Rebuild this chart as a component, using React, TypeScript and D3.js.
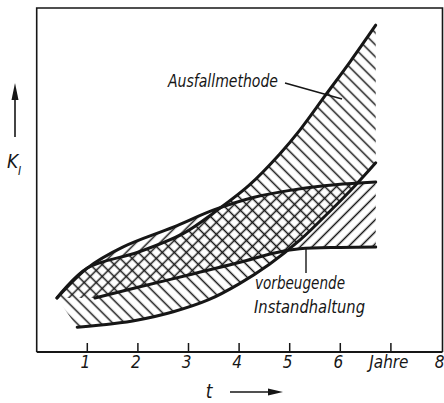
import * as d3 from "d3";
import React from "react";

// curve values: [t in Jahre, K_I in arbitrary units]
const ausfallUpper = [
  [0.4, 1.57], [1.0, 2.44], [2.0, 2.9], [2.9, 3.45], [3.5, 4.05], [4.2, 4.85],
  [4.8, 5.75], [5.2, 6.45], [5.7, 7.45], [6.2, 8.45], [6.7, 9.5],
];
const ausfallLower = [
  [0.8, 0.72], [1.5, 0.82], [2.0, 0.93], [2.7, 1.17], [3.4, 1.52], [4.0, 1.98],
  [4.6, 2.55], [5.2, 3.25], [5.8, 4.1], [6.3, 4.85], [6.7, 5.5],
];
const vorbUpper = [
  [0.4, 1.57], [1.0, 2.44], [1.7, 3.05], [2.7, 3.63], [3.5, 4.13], [4.3, 4.5],
  [5.1, 4.72], [5.9, 4.86], [6.7, 4.94],
];
const vorbLower = [
  [1.15, 1.57], [2.0, 1.88], [3.0, 2.24], [4.0, 2.6], [4.7, 2.88], [5.2, 3.0],
  [6.0, 3.04], [6.7, 3.05],
];
const tickYears = [1, 2, 3, 4, 5, 6, 7];
const tickLabels = ["1", "2", "3", "4", "5", "6", "Jahre", "8"];

const W = 444;
const H = 403;
const ink = "#161616";
const font = "'DejaVu Sans Condensed', 'Liberation Sans Narrow', 'DejaVu Sans', sans-serif";

const x = d3.scaleLinear().domain([0, 8]).range([36.7, 441.5]);
const y = d3.scaleLinear().domain([0, 10]).range([352, 8]);

const line = d3
  .line<number[]>()
  .x((d) => x(d[0]))
  .y((d) => y(d[1]))
  .curve(d3.curveCatmullRom.alpha(0.5));

// closed band: upper curve forward, lower curve back
const band = (upper: number[][], lower: number[][]) =>
  line(upper) + line(lower.slice().reverse())!.replace(/^M/, "L") + "Z";

export default function App() {
  return (
    <svg
      width={W}
      height={H}
      style={{ position: "absolute", left: 0, top: 0, background: "#fff" }}
      fontFamily={font}
      fontStyle="italic"
    >
      <defs>
        <pattern id="hatchA" width={8.5} height={10} patternUnits="userSpaceOnUse" patternTransform="rotate(-45)">
          <line x1={4.25} y1={-1} x2={4.25} y2={11} stroke={ink} strokeWidth={1.5} />
        </pattern>
        <pattern id="hatchV" width={8.5} height={10} patternUnits="userSpaceOnUse" patternTransform="rotate(45)">
          <line x1={4.25} y1={-1} x2={4.25} y2={11} stroke={ink} strokeWidth={1.5} />
        </pattern>
      </defs>

      {/* frame */}
      <path d={`M${x(0)},${y(0)}V${y(10)}H${x(8) + 1}V${y(0)}`} fill="none" stroke={ink} strokeWidth={1.6} />
      <line x1={x(0)} x2={x(8) + 1} y1={y(0)} y2={y(0)} stroke={ink} strokeWidth={2.2} />
      {tickYears.map((t) => (
        <line key={t} x1={x(t)} x2={x(t)} y1={y(0)} y2={y(0) - 9} stroke={ink} strokeWidth={1.5} />
      ))}
      {tickLabels.map((s, i) => (
        <text key={s} x={x(i + 1) - 2} y={368} fontSize={17} textAnchor="middle" fill={ink}>
          {s}
        </text>
      ))}

      {/* hatched bands */}
      <path d={band(ausfallUpper, ausfallLower)} fill="url(#hatchA)" />
      <path d={band(vorbUpper, vorbLower)} fill="url(#hatchV)" />
      {[ausfallUpper, ausfallLower, vorbUpper, vorbLower].map((c, i) => (
        <path key={i} d={line(c)!} fill="none" stroke={ink} strokeWidth={3} strokeLinecap="round" />
      ))}

      {/* labels */}
      <text x={168} y={87} fontSize={18} textLength={110} lengthAdjust="spacingAndGlyphs" fill={ink}>
        Ausfallmethode
      </text>
      <line x1={285} y1={83} x2={342} y2={99} stroke={ink} strokeWidth={1.4} />
      <line x1={306} y1={y(3.03)} x2={306} y2={273} stroke={ink} strokeWidth={1.4} />
      <text x={255} y={289} fontSize={18} textLength={90} lengthAdjust="spacingAndGlyphs" fill={ink}>
        vorbeugende
      </text>
      <text x={254} y={313} fontSize={18} textLength={111} lengthAdjust="spacingAndGlyphs" fill={ink}>
        Instandhaltung
      </text>

      {/* axis titles with arrows */}
      <text x={7} y={168} fontSize={19} fill={ink}>K</text>
      <text x={18} y={175} fontSize={12} fill={ink}>I</text>
      <line x1={15} x2={15} y1={137} y2={96} stroke={ink} strokeWidth={1.6} />
      <path d="M15,83L11.5,100L18.5,100Z" fill={ink} />
      <text x={209} y={398} fontSize={19} textAnchor="middle" fill={ink}>t</text>
      <line x1={230} x2={270} y1={392} y2={392} stroke={ink} strokeWidth={1.6} />
      <path d="M283,392L268,388.5L268,395.5Z" fill={ink} />
    </svg>
  );
}
